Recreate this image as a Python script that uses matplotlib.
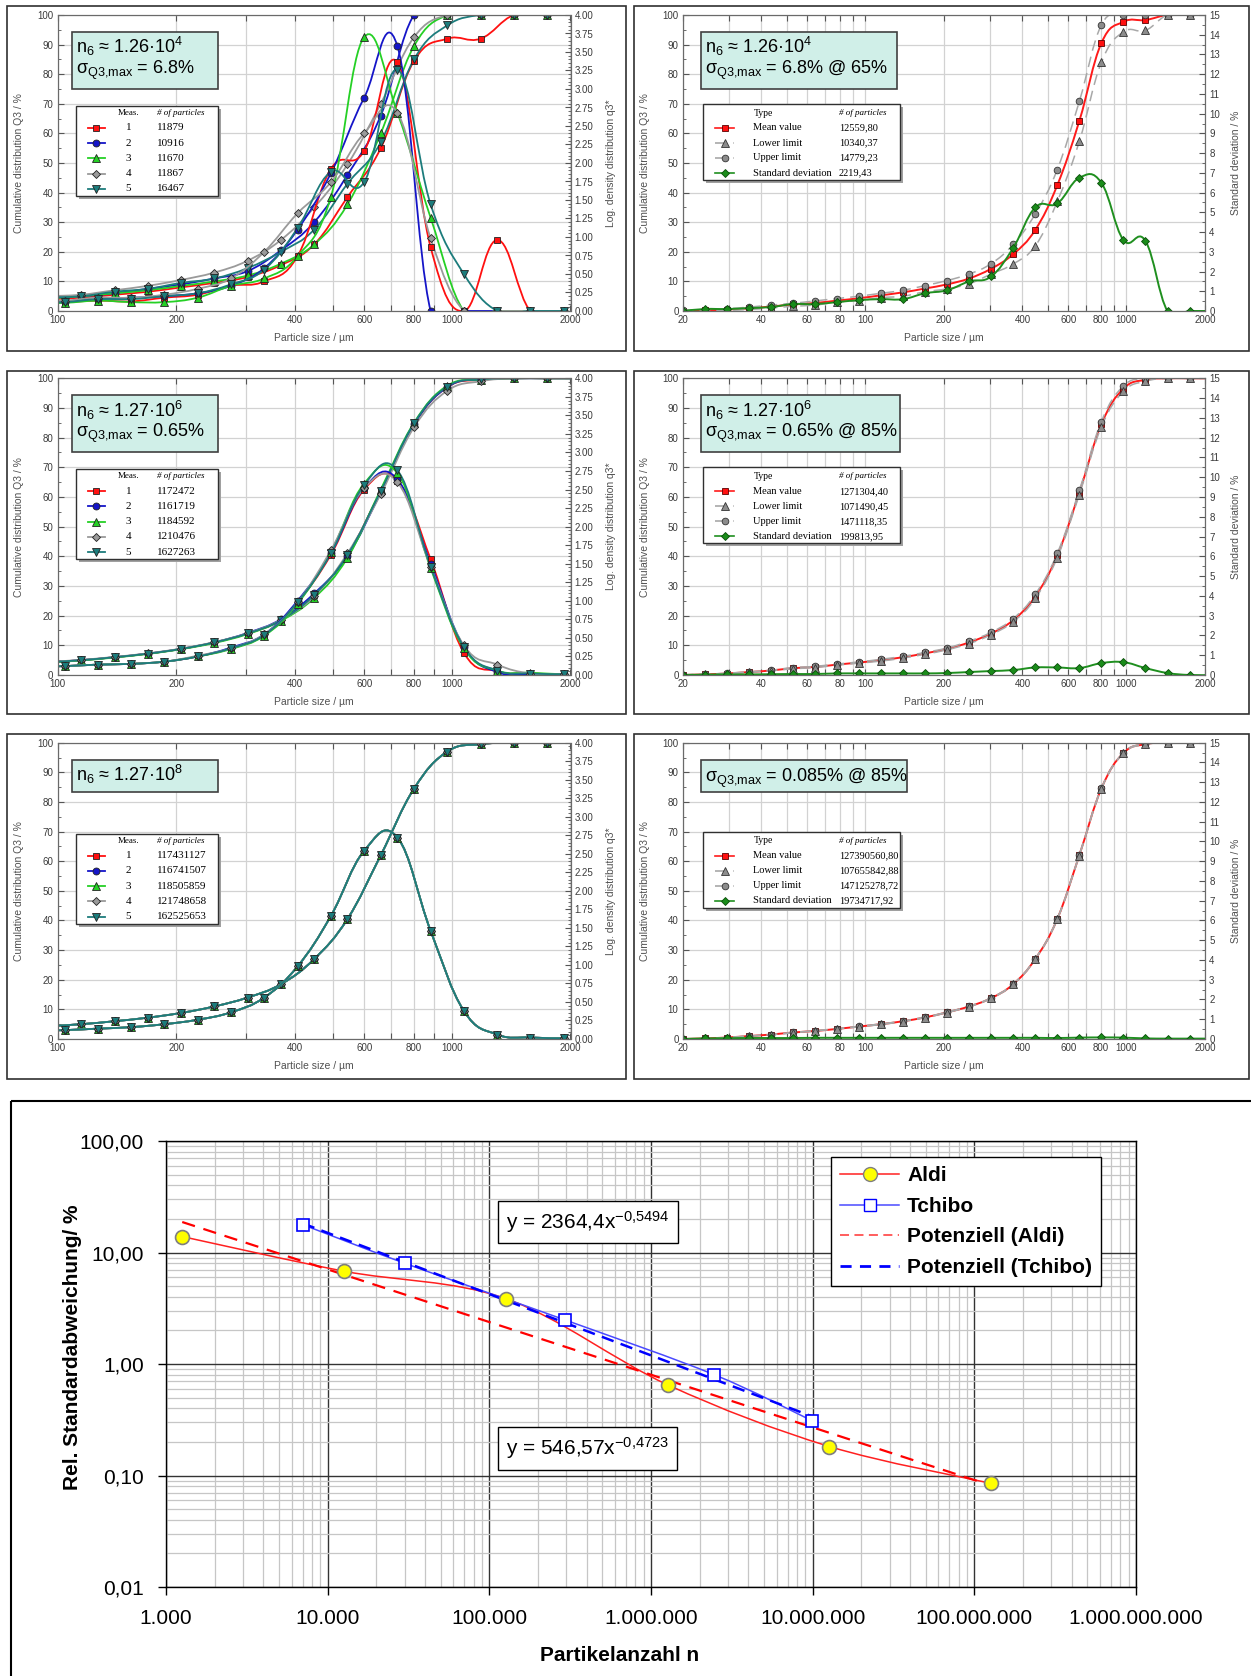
import numpy as np
import matplotlib
matplotlib.use('Agg')
import matplotlib.pyplot as plt
import matplotlib.transforms as mtransforms
from matplotlib.path import Path
from matplotlib.patches import PathPatch, Rectangle
from matplotlib.lines import Line2D
from matplotlib.ticker import (FixedLocator, MultipleLocator, FuncFormatter,
                               NullLocator, NullFormatter, LogLocator)

plt.rcParams['font.family'] = ['Liberation Sans', 'DejaVu Sans']
plt.rcParams['mathtext.default'] = 'regular'

# ---------------- data: particle size panels ----------------
# class limits (cumulative Q3) and class centres (density q3*) for the left column
cum_um = [94.6, 114.9, 139.5, 169.4, 205.8, 250.0, 303.5, 368.6, 447.7, 543.7,
          660.3, 802.0, 974.0, 1183, 1437, 1745, 2119]
den_um = [85.9, 104.3, 126.6, 153.7, 186.7, 226.7, 275.2, 334.5, 406.2, 493.4,
          599.2, 727.7, 883.8, 1073, 1304, 1583, 1923]

# n ~ 1.26e4, five measurements
p1_cum = [
    [4.0, 4.5, 5.5, 6.5, 8.0, 9.5, 11.5, 15.5, 22.5, 38.5, 55.0, 84.5, 92.0, 92.0, 100, 100, 100],
    [4.5, 5.0, 6.0, 7.5, 9.0, 11.0, 13.5, 20.5, 30.0, 46.0, 66.0, 100, 100, 100, 100, 100, 100],
    [4.2, 5.0, 6.0, 7.0, 8.5, 10.0, 12.0, 16.0, 22.5, 36.0, 60.0, 89.5, 100, 100, 100, 100, 100],
    [5.0, 5.5, 7.0, 8.5, 10.5, 13.0, 17.0, 24.0, 35.0, 49.5, 70.0, 92.5, 100, 100, 100, 100, 100],
    [4.5, 5.0, 6.5, 7.5, 9.5, 11.0, 14.5, 20.0, 27.5, 43.0, 57.0, 85.0, 96.5, 100, 100, 100, 100],
]
p1_den = [
    [0.11, 0.12, 0.14, 0.13, 0.18, 0.22, 0.34, 0.40, 0.74, 1.92, 2.16, 3.36, 0.86, 0.00, 0.96, 0.00, 0.00],
    [0.11, 0.12, 0.16, 0.18, 0.20, 0.24, 0.34, 0.58, 1.10, 1.86, 2.88, 3.58, 0.00, 0.00, 0.00, 0.00, 0.00],
    [0.10, 0.11, 0.14, 0.12, 0.12, 0.18, 0.34, 0.44, 0.74, 1.54, 3.70, 2.68, 1.26, 0.00, 0.00, 0.00, 0.00],
    [0.12, 0.14, 0.18, 0.18, 0.22, 0.30, 0.44, 0.80, 1.32, 1.74, 2.40, 2.68, 0.98, 0.00, 0.00, 0.00, 0.00],
    [0.11, 0.12, 0.16, 0.16, 0.20, 0.24, 0.36, 0.56, 1.12, 1.88, 1.74, 3.26, 1.44, 0.50, 0.00, 0.00, 0.00],
]
p1_counts = ['11879', '10916', '11670', '11867', '16467']

# n ~ 1.27e6
p3_cum = [
    [4.3, 5.0, 6.0, 7.2, 8.8, 11.0, 14.0, 18.5, 27.0, 40.5, 62.0, 84.5, 97.0, 99.5, 100, 100, 100],
    [4.3, 5.0, 6.0, 7.2, 8.8, 11.0, 14.2, 18.8, 27.5, 40.0, 61.5, 84.5, 97.0, 99.8, 100, 100, 100],
    [4.2, 4.9, 5.9, 7.1, 8.7, 10.8, 13.8, 18.3, 26.0, 39.5, 62.5, 85.0, 97.5, 99.5, 100, 100, 100],
    [4.4, 5.1, 6.1, 7.3, 8.9, 11.1, 14.1, 18.6, 26.5, 41.0, 61.0, 83.5, 95.8, 99.0, 100, 100, 100],
    [4.3, 5.0, 6.0, 7.2, 8.8, 11.0, 14.0, 18.5, 27.0, 40.5, 62.0, 84.8, 97.2, 99.6, 100, 100, 100],
]
p3_den = [
    [0.11, 0.12, 0.14, 0.15, 0.18, 0.25, 0.36, 0.54, 0.98, 1.62, 2.50, 2.62, 1.56, 0.30, 0.05, 0.02, 0.01],
    [0.11, 0.12, 0.14, 0.15, 0.18, 0.25, 0.37, 0.55, 1.00, 1.64, 2.52, 2.64, 1.50, 0.38, 0.04, 0.01, 0.01],
    [0.11, 0.12, 0.14, 0.15, 0.18, 0.25, 0.35, 0.53, 0.96, 1.66, 2.58, 2.72, 1.44, 0.36, 0.06, 0.03, 0.01],
    [0.11, 0.12, 0.14, 0.15, 0.18, 0.26, 0.36, 0.55, 0.98, 1.68, 2.52, 2.60, 1.46, 0.40, 0.14, 0.02, 0.01],
    [0.11, 0.12, 0.14, 0.15, 0.18, 0.25, 0.36, 0.54, 0.98, 1.64, 2.56, 2.76, 1.46, 0.38, 0.06, 0.02, 0.01],
]
p3_counts = ['1172472', '1161719', '1184592', '1210476', '1627263']

# n ~ 1.27e8 (all five runs coincide)
p5_cum = [4.3, 5.0, 6.0, 7.2, 8.8, 11.0, 14.0, 18.5, 27.0, 40.5, 62.0, 84.5, 97.0, 99.5, 100, 100, 100]
p5_den = [0.11, 0.12, 0.14, 0.16, 0.20, 0.26, 0.36, 0.56, 0.98, 1.66, 2.54, 2.72, 1.46, 0.38, 0.06, 0.02, 0.01]
p5_counts = ['117431127', '116741507', '118505859', '121748658', '162525653']

# right column: mean / limits / standard deviation
psd_um = [20.0, 24.3, 29.5, 35.8, 43.5, 52.8, 64.1, 77.9, 94.6, 114.9, 139.5, 169.4,
          205.8, 250.0, 303.5, 368.6, 447.7, 543.7, 660.3, 802.0, 974.0, 1183, 1437, 1745, 2119]

p2_mean = [0.0, 0.2, 0.5, 0.9, 1.5, 2.2, 2.7, 3.5, 4.3, 5.3, 6.3, 7.6, 9.0, 11.0, 14.3, 19.2,
           27.4, 42.5, 64.2, 90.5, 97.7, 98.3, 100, 100, 100]
p2_lower = [0.0, 0.0, 0.2, 0.5, 1.0, 1.6, 2.0, 3.0, 3.5, 4.5, 5.0, 6.5, 7.5, 9.2, 12.5, 15.9,
            22.0, 37.0, 57.3, 84.0, 94.3, 94.8, 100, 100, 100]
p2_upper = [0.3, 0.5, 0.8, 1.3, 2.0, 2.6, 3.4, 4.2, 5.0, 6.0, 7.0, 8.6, 10.3, 12.5, 16.0, 22.5,
            32.8, 47.8, 70.8, 96.6, 100, 100, 100, 100, 100]
p2_std = [0.0, 0.1, 0.1, 0.15, 0.2, 0.35, 0.35, 0.45, 0.55, 0.6, 0.6, 0.9, 1.05, 1.5, 1.75, 3.2,
          5.25, 5.45, 6.75, 6.5, 3.6, 3.55, 0.0, 0.0, 0.0]
p2_counts = ['12559,80', '10340,37', '14779,23', '2219,43']

p4_mean = [0.0, 0.2, 0.5, 1.0, 1.5, 2.3, 2.7, 3.5, 4.2, 5.0, 6.0, 7.3, 8.8, 11.0, 14.0, 18.5,
           26.5, 40.3, 61.5, 84.5, 96.5, 99.5, 100, 100, 100]
p4_lower = [0.0, 0.2, 0.4, 0.9, 1.4, 2.1, 2.5, 3.3, 4.0, 4.7, 5.7, 7.0, 8.5, 10.6, 13.6, 18.0,
            25.8, 39.6, 60.8, 83.6, 95.6, 99.0, 100, 100, 100]
p4_upper = [0.1, 0.3, 0.6, 1.1, 1.6, 2.5, 2.9, 3.7, 4.4, 5.3, 6.3, 7.6, 9.1, 11.4, 14.4, 19.0,
            27.2, 41.0, 62.2, 85.4, 97.4, 100, 100, 100, 100]
p4_std = [0.0, 0.02, 0.03, 0.03, 0.04, 0.05, 0.05, 0.08, 0.08, 0.08, 0.08, 0.08, 0.1, 0.15, 0.2,
          0.25, 0.38, 0.38, 0.35, 0.6, 0.65, 0.35, 0.1, 0.0, 0.0]
p4_counts = ['1271304,40', '1071490,45', '1471118,35', '199813,95']

p6_mean = [0.0, 0.2, 0.5, 1.0, 1.5, 2.2, 2.7, 3.4, 4.2, 5.0, 6.0, 7.3, 9.0, 11.0, 13.8, 18.5,
           27.0, 40.5, 62.0, 84.5, 96.5, 99.5, 100, 100, 100]
p6_lower = [0.0, 0.2, 0.5, 1.0, 1.4, 2.1, 2.7, 3.4, 4.1, 4.9, 5.9, 7.2, 8.9, 10.9, 13.7, 18.4,
            26.9, 40.4, 61.9, 84.4, 96.4, 99.4, 100, 100, 100]
p6_upper = [0.0, 0.2, 0.5, 1.0, 1.5, 2.2, 2.8, 3.5, 4.3, 5.1, 6.1, 7.4, 9.1, 11.1, 13.9, 18.6,
            27.1, 40.6, 62.1, 84.6, 96.6, 99.6, 100, 100, 100]
p6_std = [0.0, 0.03, 0.04, 0.05, 0.05, 0.05, 0.06, 0.06, 0.06, 0.06, 0.06, 0.06, 0.06, 0.06,
          0.06, 0.06, 0.06, 0.05, 0.07, 0.08, 0.07, 0.03, 0.02, 0.02, 0.02]
p6_counts = ['127390560,80', '107655842,88', '147125278,72', '19734717,92']

# ---------------- data: bottom chart ----------------
aldi_n = [1.26e3, 1.26e4, 1.27e5, 1.27e6, 1.27e7, 1.27e8]
aldi_sd = [13.9, 6.8, 3.85, 0.65, 0.182, 0.085]
tchibo_n = [7.0e3, 3.0e4, 2.95e5, 2.47e6, 9.9e6]
tchibo_sd = [17.8, 8.0, 2.48, 0.80, 0.31]
aldi_fit = (546.57, -0.4723)
tchibo_fit = (2364.4, -0.5494)
n_ticks = [1e3, 1e4, 1e5, 1e6, 1e7, 1e8, 1e9]
sd_ticks = [0.01, 0.1, 1, 10, 100]

# ---------------- figure ----------------
W, H = 1251, 1676
fig = plt.figure(figsize=(W / 100, H / 100), dpi=100)
PX = mtransforms.Affine2D().scale(1 / W, -1 / H).translate(0, 1) + fig.transFigure

MEAS = [('#ff1010', 's', 5), ('#1515c8', 'o', 5), ('#25d025', '^', 5.5),
        ('#9a9a9a', 'D', 4.5), ('#1c7c7c', 'v', 5.5)]
TEAL = '#d0efe8'


def smooth(ax, xs, ys, logy=False, k=0.2, **kw):
    # Bezier path through the points (Catmull-Rom style), built in log space
    x = np.log10(xs)
    y = np.log10(ys) if logy else np.asarray(ys, float)
    p = np.column_stack([x, y])
    q = np.vstack([p[0], p, p[-1]])
    verts, codes = [p[0]], [Path.MOVETO]
    for i in range(1, len(q) - 2):
        verts += [q[i] + (q[i + 1] - q[i - 1]) * k, q[i + 1] - (q[i + 2] - q[i]) * k, q[i + 1]]
        codes += [Path.CURVE4] * 3
    v = np.array(verts)
    v[:, 0] = 10 ** v[:, 0]
    if logy:
        v[:, 1] = 10 ** v[:, 1]
    ax.add_patch(PathPatch(Path(v, codes), fill=False, **kw))


def rect(x0, y0, x1, y1, **kw):
    fig.add_artist(Rectangle((x0, y0), x1 - x0, y1 - y0, transform=PX, **kw))


def ftext(x, y, s, **kw):
    fig.text(x, y, s, transform=PX, **kw)


def small_axes(x0, x1, y0, y1, xmin, xgrid, xlab, rmax, rmaj, rmin, rfmt):
    ax = fig.add_axes([x0 / W, 1 - y1 / H, (x1 - x0) / W, (y1 - y0) / H])
    ax.set_xscale('log')
    ax.set_xlim(xmin, 2000)
    ax.set_ylim(0, 100)
    ax.xaxis.set_major_locator(FixedLocator(xgrid))
    ax.xaxis.set_minor_locator(NullLocator())
    ax.xaxis.set_major_formatter(FuncFormatter(lambda v, p: f'{v:.0f}' if round(v) in xlab else ''))
    ax.yaxis.set_major_locator(MultipleLocator(10))
    ax.yaxis.set_minor_locator(MultipleLocator(5))
    ax.grid(True, which='major', color='#d2d2d2', lw=0.9)
    ax.set_axisbelow(True)
    ax.tick_params(which='both', direction='in', top=True, labelsize=7,
                   labelcolor='#3a3a3a', color='#555555', pad=3)
    ax.tick_params(which='major', length=4)
    ax.tick_params(which='minor', length=2.5)
    tw = ax.twinx()
    tw.set_ylim(0, rmax)
    tw.yaxis.set_major_locator(MultipleLocator(rmaj))
    tw.yaxis.set_minor_locator(MultipleLocator(rmin))
    tw.yaxis.set_major_formatter(FuncFormatter(rfmt))
    tw.tick_params(which='both', direction='in', labelsize=7, labelcolor='#3a3a3a',
                   color='#555555', pad=3)
    tw.tick_params(which='major', length=4)
    tw.tick_params(which='minor', length=2)
    for a in (ax, tw):
        for s in a.spines.values():
            s.set_color('#6a6a6a')
            s.set_linewidth(0.8)
    return ax, tw


def note(x0, y0, x1, lines, tx):
    h = 57 if len(lines) == 2 else 32
    rect(x0, y0, x1, y0 + h, fc=TEAL, ec='#404040', lw=1.2, zorder=5)
    for i, s in enumerate(lines):
        ftext(tx, y0 + 21.5 + 20 * i, s, fontsize=13, va='baseline', ha='left', zorder=6)


ROWS = [(15, 311), (378.3, 675), (742.7, 1039)]
BORD = [(5.7, 350.7), (370.7, 714), (734, 1079)]
LEFT_GRID = [100, 200, 300, 400, 500, 600, 700, 800, 900, 1000, 2000]
LEFT_LAB = {100, 200, 400, 600, 800, 1000, 2000}
RIGHT_GRID = [20, 30, 40, 50, 60, 70, 80, 90, 100, 200, 300, 400, 500, 600, 700, 800, 900, 1000, 2000]
RIGHT_LAB = {20, 40, 60, 80, 100, 200, 400, 600, 800, 1000, 2000}
LAB = dict(fontsize=7.5, color='#505050', ha='center', va='center')
SERIF = ['Liberation Serif', 'DejaVu Serif']


def left_panel(row, cums, dens, counts, lines):
    yt, yb = ROWS[row]
    rect(7, BORD[row][0], 626, BORD[row][1], fc='none', ec='#303030', lw=1.2)
    ax, tw = small_axes(57.5, 570.5, yt, yb, 100, LEFT_GRID, LEFT_LAB, 4, 0.25, 0.05,
                        lambda v, p: f'{v:.2f}')
    for (col, mk, ms), c, d in zip(MEAS, cums, dens):
        smooth(ax, cum_um, c, color=col, lw=1.3)
        ax.plot(cum_um, c, ls='none', marker=mk, ms=ms, mfc=col, mec='#222222', mew=0.6)
        smooth(tw, den_um, d, color=col, lw=1.3)
        tw.plot(den_um, d, ls='none', marker=mk, ms=ms, mfc=col, mec='#222222', mew=0.6)
    ftext(19, (yt + yb) / 2, 'Cumulative distribution Q3 / %', rotation=90, **LAB)
    ftext(610.5, (yt + yb) / 2, 'Log. density distribution q3*', rotation=90, **LAB)
    ftext(314, yb + 27, 'Particle size / µm', **LAB)
    note(72, yt + 17, 218, lines, 76.5)
    # measurement table
    x0, x1, y0, y1 = 75.5, 217.5, yt + 91, yt + 181
    rect(x0 + 3, y0 + 3, x1 + 3, y1 + 3, fc='#a0a0a0', ec='none', zorder=4)
    rect(x0, y0, x1, y1, fc='white', ec='#303030', lw=1, zorder=5)
    ftext(128.5, yt + 98, 'Meas.', family=SERIF, fontsize=6.5, ha='center', va='center', zorder=6)
    ftext(157, yt + 98, '# of particles', family=SERIF, fontsize=6.5, style='italic',
          ha='left', va='center', zorder=6)
    for i, ((col, mk, ms), cnt) in enumerate(zip(MEAS, counts)):
        y = yt + 113 + 15.2 * i
        fig.add_artist(Line2D([87.5, 105], [y, y], transform=PX, color=col, lw=1.3, zorder=6))
        fig.add_artist(Line2D([96.3], [y], transform=PX, marker=mk, ms=ms, mfc=col,
                              mec='#222222', mew=0.6, zorder=7))
        ftext(128.5, y, str(i + 1), family=SERIF, fontsize=8, ha='center', va='center', zorder=6)
        ftext(157, y, cnt, family=SERIF, fontsize=8, ha='left', va='center', zorder=6)


RSTYLE = [('Mean value', '#ff1a1a', '-', 's', '#ff1010', '#5a0000', 5),
          ('Lower limit', '#a8a8a8', (0, (7, 4)), '^', '#8c8c8c', '#333333', 5.5),
          ('Upper limit', '#a8a8a8', (0, (7, 4)), 'o', '#8c8c8c', '#333333', 4.8),
          ('Standard deviation', '#1f8f1f', '-', 'D', '#1a8c1a', '#0b4d0b', 4.5)]


def right_panel(row, mean, lower, upper, std, counts, lines, box_r):
    yt, yb = ROWS[row]
    rect(634, BORD[row][0], 1248.6, BORD[row][1], fc='none', ec='#303030', lw=1.2)
    ax, tw = small_axes(682.7, 1205, yt, yb, 20, RIGHT_GRID, RIGHT_LAB, 15, 1, 0.5,
                        lambda v, p: f'{v:.0f}')
    # draw order: mean, upper, lower, std (std on the right-hand axis)
    for idx, vals, a in ((0, mean, ax), (2, upper, ax), (1, lower, ax), (3, std, tw)):
        _, lc, ls, mk, mf, me, ms = RSTYLE[idx]
        smooth(a, psd_um, vals, color=lc, lw=1.4 if ls == '-' else 1.1, ls=ls)
        a.plot(psd_um, vals, ls='none', marker=mk, ms=ms, mfc=mf, mec=me, mew=0.6)
    ftext(645, (yt + yb) / 2, 'Cumulative distribution Q3 / %', rotation=90, **LAB)
    ftext(1236, (yt + yb) / 2, 'Standard deviation / %', rotation=90, **LAB)
    ftext(944, yb + 27, 'Particle size / µm', **LAB)
    note(701, yt + 17 if len(lines) == 2 else yt + 17.5, box_r, lines, 705)
    x0, x1, y0, y1 = 703, 900, yt + 89, yt + 165
    rect(x0 + 3, y0 + 3, x1 + 3, y1 + 3, fc='#a0a0a0', ec='none', zorder=4)
    rect(x0, y0, x1, y1, fc='white', ec='#303030', lw=1, zorder=5)
    ftext(753.5, yt + 98, 'Type', family=SERIF, fontsize=7, ha='left', va='center', zorder=6)
    ftext(838.7, yt + 98, '# of particles', family=SERIF, fontsize=6.5, style='italic',
          ha='left', va='center', zorder=6)
    for i, ((name, lc, ls, mk, mf, me, ms), cnt) in enumerate(zip(RSTYLE, counts)):
        y = yt + 113 + 15 * i
        fig.add_artist(Line2D([715, 734], [y, y], transform=PX, color=lc, lw=1.2, ls=ls, zorder=6))
        fig.add_artist(Line2D([724.5], [y], transform=PX, marker=mk, ms=ms, mfc=mf, mec=me,
                              mew=0.6, zorder=7))
        ftext(752.8, y, name, family=SERIF, fontsize=7.5, ha='left', va='center', zorder=6)
        ftext(838.7, y, cnt, family=SERIF, fontsize=7.5, ha='left', va='center', zorder=6)


NOTE_N4 = 'n$_{6}$ ≈ 1.26·10$^{4}$'
NOTE_N6 = 'n$_{6}$ ≈ 1.27·10$^{6}$'
NOTE_N8 = 'n$_{6}$ ≈ 1.27·10$^{8}$'

left_panel(0, p1_cum, p1_den, p1_counts, [NOTE_N4, 'σ$_{Q3{,}max}$ = 6.8%'])
left_panel(1, p3_cum, p3_den, p3_counts, [NOTE_N6, 'σ$_{Q3{,}max}$ = 0.65%'])
left_panel(2, [p5_cum] * 5, [p5_den] * 5, p5_counts, [NOTE_N8])

right_panel(0, p2_mean, p2_lower, p2_upper, p2_std, p2_counts,
            [NOTE_N4, 'σ$_{Q3{,}max}$ = 6.8% @ 65%'], 897)
right_panel(1, p4_mean, p4_lower, p4_upper, p4_std, p4_counts,
            [NOTE_N6, 'σ$_{Q3{,}max}$ = 0.65% @ 85%'], 900)
right_panel(2, p6_mean, p6_lower, p6_upper, p6_std, p6_counts,
            ['σ$_{Q3{,}max}$ = 0.085% @ 85%'], 907)

# ---------------- bottom chart ----------------
rect(10.5, 1101, 1300, 1700, fc='none', ec='black', lw=1.5)
axb = fig.add_axes([166 / W, 1 - 1587 / H, 970 / W, 446 / H])
axb.set_xscale('log')
axb.set_yscale('log')
axb.set_xlim(1e3, 1e9)
axb.set_ylim(0.01, 100)
axb.xaxis.set_major_locator(FixedLocator(n_ticks))
axb.yaxis.set_major_locator(FixedLocator(sd_ticks))
axb.xaxis.set_minor_locator(LogLocator(10, subs=np.arange(2, 10), numticks=20))
axb.yaxis.set_minor_locator(LogLocator(10, subs=np.arange(2, 10), numticks=20))
axb.xaxis.set_major_formatter(FuncFormatter(lambda v, p: f'{v:,.0f}'.replace(',', '.')))
axb.yaxis.set_major_formatter(FuncFormatter(lambda v, p: f'{v:.2f}'.replace('.', ',')))
axb.xaxis.set_minor_formatter(NullFormatter())
axb.yaxis.set_minor_formatter(NullFormatter())
axb.grid(True, which='minor', color='#c6c6c6', lw=0.9)
axb.grid(True, which='major', color='#333333', lw=1.0)
axb.set_axisbelow(True)
axb.tick_params(which='major', direction='out', length=6, width=1, labelsize=15, pad=10)
axb.tick_params(which='minor', length=0)
for s in axb.spines.values():
    s.set_color('black')
    s.set_linewidth(1)

smooth(axb, aldi_n, aldi_sd, logy=True, k=1 / 6, color='#ff2020', lw=1.1)
smooth(axb, tchibo_n, tchibo_sd, logy=True, k=1 / 6, color='#4a4aff', lw=1.1)
xa = np.array([min(aldi_n), max(aldi_n)])
xt = np.array([min(tchibo_n), max(tchibo_n)])
axb.plot(xa, aldi_fit[0] * xa ** aldi_fit[1], color='#ff0000', lw=1.6, ls=(0, (6, 4)))
axb.plot(xt, tchibo_fit[0] * xt ** tchibo_fit[1], color='#0000ff', lw=1.8, ls=(0, (5, 3)))
axb.plot(aldi_n, aldi_sd, ls='none', marker='o', ms=10, mfc='#ffff00', mec='#7f7f7f', mew=1.2)
axb.plot(tchibo_n, tchibo_sd, ls='none', marker='s', ms=9, mfc='white', mec='#0000ff', mew=1.2)

tb = dict(boxstyle='square,pad=0.4', fc='white', ec='black', lw=1)
axb.text(0.3505, 0.818, 'y = 2364,4x$^{-0{,}5494}$', transform=axb.transAxes, fontsize=15,
         ha='left', va='center', bbox=tb)
axb.text(0.3505, 0.3105, 'y = 546,57x$^{-0{,}4723}$', transform=axb.transAxes, fontsize=15,
         ha='left', va='center', bbox=tb)

handles = [Line2D([], [], color='#ff2020', lw=1.1, marker='o', ms=10, mfc='#ffff00', mec='#7f7f7f'),
           Line2D([], [], color='#4a4aff', lw=1.1, marker='s', ms=9, mfc='white', mec='#0000ff'),
           Line2D([], [], color='#ff5050', lw=1.3, ls=(0, (5, 3))),
           Line2D([], [], color='#0000ff', lw=2.0, ls=(0, (4, 3)))]
leg = axb.legend(handles, ['Aldi', 'Tchibo', 'Potenziell (Aldi)', 'Potenziell (Tchibo)'],
                 loc='upper left', bbox_to_anchor=(0.6856, 0.964), borderaxespad=0,
                 prop=dict(weight='bold', size=15), frameon=True, fancybox=False,
                 edgecolor='black', framealpha=1, handlelength=2.8, handletextpad=0.4,
                 labelspacing=0.55, borderpad=0.45)
leg.get_frame().set_linewidth(1)

ftext(73, 1347, 'Rel. Standardabweichung/ %', rotation=90, fontsize=15, weight='bold',
      ha='center', va='center')
ftext(620, 1655, 'Partikelanzahl n', fontsize=15, weight='bold', ha='center', va='center')

fig.savefig('out.png', dpi=100)
